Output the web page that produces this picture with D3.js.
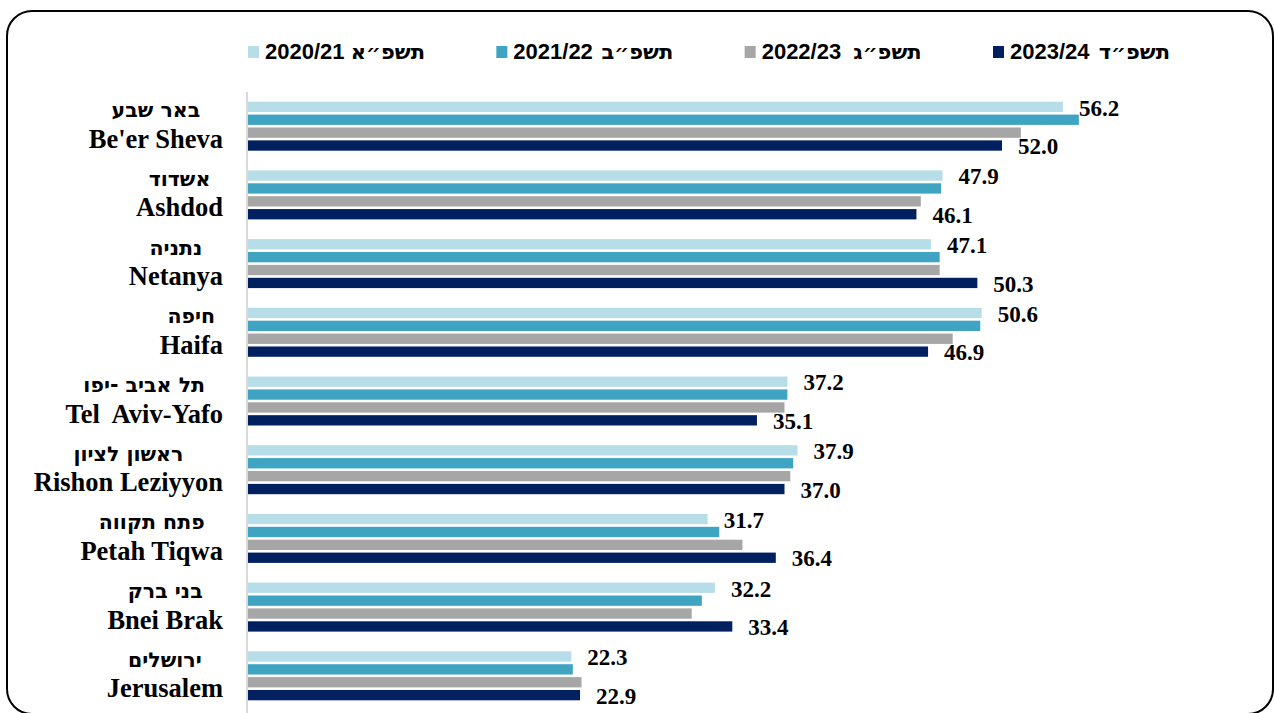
<!DOCTYPE html>
<html><head><meta charset="utf-8">
<script src="https://cdn.jsdelivr.net/npm/d3@7"></script>
<style>html,body{margin:0;padding:0;background:#fff;}svg{display:block;}text{white-space:pre;}</style>
</head><body>
<script>
const categoriesEn = ["Be'er Sheva","Ashdod","Netanya","Haifa","Tel  Aviv-Yafo","Rishon Leziyyon","Petah Tiqwa","Bnei Brak","Jerusalem"];
const categoriesHe = ["באר שבע","אשדוד","נתניה","חיפה","תל אביב -יפו","ראשון לציון","פתח תקווה","בני ברק","ירושלים"];
const seriesYears = ["2020/21","2021/22","2022/23","2023/24"];
const seriesHe = ["תשפ״א","תשפ״ב","תשפ״ג","תשפ״ד"];
const seriesColors = ["#b7dee8","#3ea4c2","#a6a6a6","#002060"];
const s2020 = [56.2,47.9,47.1,50.6,37.2,37.9,31.7,32.2,22.3];
const s2021 = [57.3,47.8,47.7,50.5,37.2,37.6,32.5,31.3,22.4];
const s2022 = [53.3,46.4,47.7,48.6,37.0,37.4,34.1,30.6,23.0];
const s2023 = [52.0,46.1,50.3,46.9,35.1,37.0,36.4,33.4,22.9];
const labeledSeries = [0,3];

const series = [s2020,s2021,s2022,s2023];
const W = 1274, H = 713;
const svg = d3.select("body").append("svg").attr("width",W).attr("height",H);
svg.append("rect").attr("width",W).attr("height",H).attr("fill","#fff");

// frame
svg.append("rect").attr("x",7).attr("y",11).attr("width",1266).attr("height",703)
  .attr("rx",25).attr("ry",25).attr("fill","none").attr("stroke","#000").attr("stroke-width",2);

const x = d3.scaleLinear().domain([0,60]).range([248,1118]);
const y = d3.scaleBand().domain(d3.range(categoriesEn.length)).range([101.7,700.3]).paddingInner(0.287).paddingOuter(0);
const yi = d3.scaleBand().domain(d3.range(series.length)).range([0,y.bandwidth()]).paddingInner(0.2);

// axis line
svg.append("line").attr("x1",247).attr("x2",247).attr("y1",92).attr("y2",H)
  .attr("stroke","#d9d9d9").attr("stroke-width",2);

const serif = "'Liberation Serif','Times New Roman',serif";
const sans = "'Liberation Sans',Arial,sans-serif";
const heb = "'DejaVu Sans',sans-serif";

// bars
const groups = svg.selectAll("g.cat").data(categoriesEn).join("g").attr("class","cat")
  .attr("transform",(d,i)=>`translate(0,${y(i)})`);
groups.each(function(d,i){
  const g = d3.select(this);
  series.forEach((s,k)=>{
    g.append("rect").attr("x",x(0)).attr("y",yi(k)).attr("width",x(s[i])-x(0))
      .attr("height",yi.bandwidth()).attr("fill",seriesColors[k]);
  });
  labeledSeries.forEach(k=>{
    g.append("text").attr("x",x(series[k][i])+16).attr("y",yi(k)+yi.bandwidth()/2)
      .attr("dy","0.38em").attr("font-family",serif)
      .attr("font-weight","bold").attr("font-size",23).attr("fill","#000")
      .text(d3.format(".1f")(series[k][i]));
  });
  const he = g.append("text").attr("y",15.5).attr("text-anchor","middle")
    .attr("font-family",heb).attr("font-weight","bold")
    .attr("font-size",20.5).attr("fill","#000").text(categoriesHe[i]);
  const en = g.append("text").attr("y",46).attr("text-anchor","middle")
    .attr("font-family",serif).attr("font-weight","bold")
    .attr("font-size",26.5).attr("fill","#000").text(categoriesEn[i]);
  const mw = Math.max(he.node().getComputedTextLength(), en.node().getComputedTextLength());
  const cx = 223 - mw/2;
  he.attr("x",cx); en.attr("x",cx);
});

// legend
const lx = d3.scalePoint().domain(d3.range(seriesYears.length)).range([248,993]);
const leg = svg.selectAll("g.leg").data(seriesYears).join("g").attr("class","leg")
  .attr("transform",(d,i)=>`translate(${lx(i)},0)`);
leg.append("rect").attr("x",0).attr("y",46).attr("width",11).attr("height",12)
  .attr("fill",(d,i)=>seriesColors[i]);
leg.append("text").attr("x",17).attr("y",59)
  .attr("font-family",sans).attr("font-weight","bold")
  .attr("font-size",22).attr("fill","#000").text(d=>d);
leg.append("text").attr("x",177).attr("y",59).attr("text-anchor","end")
  .attr("font-family",heb).attr("font-weight","bold")
  .attr("font-size",21).attr("fill","#000").text((d,i)=>seriesHe[i]);
</script>
</body></html>
